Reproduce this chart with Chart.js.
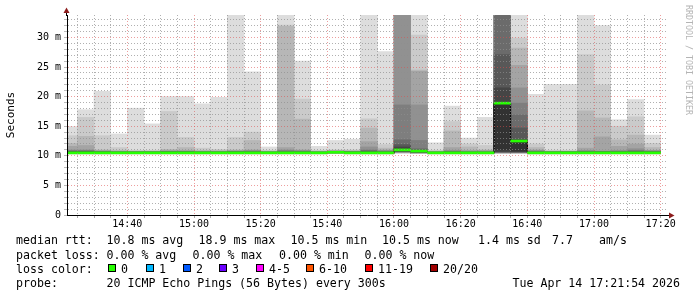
<!DOCTYPE html>
<html><head><meta charset="utf-8">
<script src="https://cdn.jsdelivr.net/npm/chart.js@4.4.1/dist/chart.umd.min.js"></script>
<style>html,body{margin:0;padding:0;background:#fff;}canvas{display:block;}</style>
</head><body>
<canvas id="c" width="697" height="297"></canvas>
<script>
// ---- data ----
const stepStarts = ['14:20','14:25','14:30','14:35','14:40','14:45','14:50','14:55',
  '15:00','15:05','15:10','15:15','15:20','15:25','15:30','15:35','15:40','15:45','15:50','15:55',
  '16:00','16:05','16:10','16:15','16:20','16:25','16:30','16:35','16:40','16:45','16:50','16:55',
  '17:00','17:05','17:10','17:15'];
const median = [10.5,10.5,10.5,10.5,10.5,10.5, 10.5,10.5,10.5,10.5,10.5,10.5,
  10.5,10.5,10.5,10.5,10.6,10.5, 10.5,10.5,11.0,10.8,10.5,10.5,
  10.5,10.5,18.9,12.5,10.5,10.5, 10.5,10.5,10.5,10.5,10.5,10.5];
// 20 sorted pings per 5-minute step (ms)
const ping01 = [10.3,10.3,10.3,10.3,10.3,10.3, 10.3,10.3,10.3,10.3,10.3,10.3, 10.3,10.3,10.3,10.3,10.35,10.3, 10.3,10.3,10.4,10.35,10.3,10.3, 10.3,10.3,10.4,10.4,10.3,10.3, 10.3,10.3,10.3,10.3,10.3,10.3];
const ping02 = [10.35,10.35,10.35,10.35,10.35,10.35, 10.35,10.35,10.35,10.35,10.35,10.35, 10.35,10.35,10.35,10.35,10.4,10.35, 10.35,10.35,10.5,10.4,10.35,10.35, 10.35,10.35,10.45,10.45,10.35,10.35, 10.35,10.35,10.35,10.35,10.35,10.35];
const ping03 = [10.4,10.4,10.4,10.4,10.4,10.4, 10.4,10.4,10.4,10.4,10.4,10.4, 10.4,10.4,10.4,10.4,10.45,10.4, 10.4,10.4,10.55,10.45,10.4,10.4, 10.4,10.4,10.5,10.5,10.4,10.4, 10.4,10.4,10.4,10.4,10.4,10.4];
const ping04 = [10.4,10.4,10.4,10.4,10.4,10.4, 10.4,10.4,10.4,10.4,10.4,10.4, 10.4,10.4,10.4,10.4,10.45,10.4, 10.4,10.4,10.6,10.5,10.4,10.4, 10.4,10.4,10.5,10.5,10.4,10.4, 10.4,10.4,10.4,10.4,10.4,10.4];
const ping05 = [10.4,10.4,10.4,10.4,10.4,10.4, 10.4,10.4,10.4,10.4,10.4,10.4, 10.4,10.4,10.4,10.4,10.5,10.4, 10.4,10.4,10.6,10.5,10.4,10.4, 10.4,10.4,10.55,10.55,10.4,10.4, 10.4,10.4,10.4,10.4,10.4,10.4];
const ping06 = [10.45,10.45,10.45,10.45,10.45,10.45, 10.45,10.45,10.45,10.45,10.45,10.45, 10.45,10.45,10.45,10.45,10.5,10.45, 10.45,10.45,10.65,10.55,10.45,10.45, 10.45,10.45,10.6,10.6,10.45,10.45, 10.45,10.45,10.45,10.45,10.45,10.45];
const ping07 = [10.45,10.45,10.45,10.45,10.45,10.45, 10.45,10.45,10.45,10.45,10.45,10.45, 10.45,10.45,10.45,10.45,10.5,10.45, 10.45,10.45,10.7,10.6,10.45,10.45, 10.45,10.45,10.6,10.6,10.45,10.45, 10.45,10.45,10.45,10.45,10.45,10.45];
const ping08 = [10.5,10.5,10.5,10.5,10.5,10.5, 10.5,10.5,10.5,10.5,10.5,10.5, 10.5,10.5,10.5,10.5,10.55,10.5, 10.5,10.5,10.75,10.6,10.5,10.5, 10.5,10.5,10.65,10.65,10.5,10.5, 10.5,10.5,10.5,10.5,10.5,10.5];
const ping09 = [10.5,10.5,10.5,10.5,10.5,10.5, 10.5,10.5,10.5,10.5,10.5,10.5, 10.5,10.5,10.5,10.5,10.55,10.5, 10.5,10.5,10.8,10.65,10.5,10.5, 10.5,10.5,10.7,10.7,10.5,10.5, 10.5,10.5,10.5,10.5,10.5,10.5];
const ping10 = [10.5,10.5,10.5,10.5,10.5,10.5, 10.5,10.5,10.5,10.5,10.5,10.5, 10.5,10.5,10.5,10.5,10.55,10.5, 10.5,10.5,10.85,10.7,10.5,10.5, 10.5,10.5,11.0,10.8,10.5,10.5, 10.5,10.5,10.5,10.5,10.5,10.5];
const ping11 = [10.55,10.55,10.55,10.55,10.55,10.55, 10.55,10.55,10.55,10.55,10.55,10.55, 10.55,10.55,10.55,10.55,10.65,10.55, 10.55,10.55,11.05,10.8,10.55,10.55, 10.55,10.55,19.0,12.5,10.55,10.55, 10.55,10.55,10.55,10.55,10.55,10.55];
const ping12 = [10.65,10.65,10.6,10.6,10.6,10.6, 10.6,10.6,10.6,10.6,10.6,10.6, 10.6,10.6,10.6,10.6,10.7,10.6, 10.65,10.6,11.5,10.9,10.6,10.6, 10.6,10.6,21.5,12.7,10.6,10.6, 10.6,10.6,10.6,10.6,10.6,10.6];
const ping13 = [10.7,10.7,10.65,10.6,10.6,10.6, 10.65,10.65,10.6,10.6,10.65,10.65, 10.6,10.65,10.65,10.6,10.7,10.65, 10.7,10.65,11.9,11.0,10.6,10.65, 10.6,10.6,27.1,14.7,10.65,10.6, 10.6,10.65,10.65,10.65,10.7,10.65];
const ping14 = [10.8,10.8,10.7,10.65,10.65,10.65, 10.7,10.7,10.65,10.65,10.7,10.7, 10.6,10.7,10.7,10.6,10.75,10.65, 10.9,10.7,12.7,11.2,10.6,10.7, 10.65,10.65,35.0,16.9,10.7,10.65, 10.65,10.7,10.7,10.7,10.8,10.7];
const ping15 = [10.9,10.9,10.75,10.7,10.7,10.7, 10.75,10.75,10.7,10.7,10.75,10.8, 10.65,10.9,10.8,10.65,10.75,10.7, 11.0,10.8,18.6,12.6,10.65,10.8, 10.7,10.7,36.0,18.9,10.8,10.7, 10.7,10.8,10.75,10.8,10.9,10.8];
const ping16 = [11.0,11.0,10.8,10.75,10.7,10.7, 10.8,10.8,10.75,10.75,10.8,10.9, 10.7,11.0,10.9,10.7,10.8,10.75, 11.5,10.9,35.5,18.6,10.7,10.9, 10.8,10.8,37.5,21.5,10.9,10.7, 10.7,10.9,10.8,10.9,11.2,10.85];
const ping17 = [11.6,11.75,10.9,10.8,10.75,10.75, 10.9,10.9,10.8,10.8,10.9,11.0, 10.75,11.4,11.0,10.75,10.85,10.8, 12.4,11.0,36.5,24.3,10.75,11.4, 10.9,10.9,39.0,25.3,11.0,10.75, 10.75,11.3,13.2,11.6,12.0,10.9];
const ping18 = [12.1,13.3,11.0,10.9,10.8,10.8, 11.1,11.4,10.9,10.9,11.0,12.6, 10.8,31.9,16.2,10.8,10.9,10.9, 14.7,11.3,38.0,24.5,10.8,14.2, 11.5,11.0,41.0,28.2,11.4,10.8, 10.8,17.6,16.4,12.7,13.5,11.4];
const ping19 = [13.4,16.5,13.4,11.4,10.9,10.9, 17.5,13.1,11.3,11.1,13.1,14.0, 10.9,32.1,19.6,10.9,11.0,11.0, 16.25,11.9,40.0,30.4,10.9,15.8, 12.0,11.75,44.0,29.9,12.0,10.9, 10.9,27.1,22.0,15.0,16.6,12.1];
const ping20 = [14.95,17.8,20.9,13.7,18.05,15.4, 20.0,20.0,18.8,19.9,38.0,24.2, 11.5,39.0,26.0,11.6,12.6,12.8, 37.0,27.6,44.0,38.0,12.2,18.4, 13.0,16.5,48.0,40.0,20.4,22.1, 22.1,38.0,32.0,16.1,19.5,13.5];

const timeTickLabels = ['14:40','15:00','15:20','15:40','16:00','16:20','16:40','17:00','17:20'];
const yTickLabels = ['0','5 m','10 m','15 m','20 m','25 m','30 m'];
const rangeStart = '14:21:54', rangeEnd = '17:21:54';
const yMax = 33.8;

const statsLine1 = ['median rtt:','10.8 ms avg','18.9 ms max','10.5 ms min','10.5 ms now','1.4 ms sd','7.7','am/s'];
const statsLine2 = ['packet loss:','0.00 % avg','0.00 % max','0.00 % min','0.00 % now'];
const lossLabels = ['0','1','2','3','4-5','6-10','11-19','20/20'];
const probeLine = ['probe:','20 ICMP Echo Pings (56 Bytes) every 300s','Tue Apr 14 17:21:54 2026'];
const watermark = 'RRDTOOL / TOBI OETIKER';

// ---- styles / layout ----
const lossColors = ['#26ff00','#00b8ff','#0059ff','#6a00ff','#ff00ff','#ff5500','#ff0000','#a00000'];
const line1X = [16,106.5,198.5,290.5,382,478,552,599];
const line2X = [16,106.5,192.5,279,364.5];
const lossBoxX = [108,146,183,219,256,306,365,430];
const MONO = 'DejaVu Sans Mono';
const minorGrid = 'rgba(143,143,143,0.7)';
const majorGrid = 'rgba(222,79,79,0.55)';

const toMin = s => { const p = s.split(':').map(Number); return (p[0]-14)*60 + p[1] + (p[2]||0)/60; };
const centers = stepStarts.map(s => toMin(s) + 2.5);
const pingSeries = [ping01,ping02,ping03,ping04,ping05,ping06,ping07,ping08,ping09,ping10,
                    ping11,ping12,ping13,ping14,ping15,ping16,ping17,ping18,ping19,ping20];

const datasets = [];
for (let ibot = 1; ibot <= 10; ibot++) {
  const lo = pingSeries[ibot-1], hi = pingSeries[20-ibot];
  const g = Math.floor(190/10*(10-ibot)) + 50;
  datasets.push({type:'bar', data: centers.map((x,j)=>({x, y:[lo[j], hi[j]]})),
    backgroundColor:`rgb(${g},${g},${g})`, borderWidth:0, order:100-ibot,
    grouped:false, barPercentage:1, categoryPercentage:1});
}
datasets.push({type:'line', data: centers.map((x,j)=>({x, y: median[j]})),
  borderColor:'#000', borderWidth:1, pointRadius:0, stepped:'middle', order:2});
datasets.push({type:'bar', data: centers.map((x,j)=>({x, y:[median[j]-0.17, median[j]+0.17]})),
  backgroundColor:lossColors[0], borderWidth:0, order:1, grouped:false, barPercentage:1, categoryPercentage:1});

const deco = {
  id:'deco',
  afterDraw(chart){
    const ctx = chart.ctx, a = chart.chartArea;
    ctx.save();
    ctx.strokeStyle = '#000'; ctx.lineWidth = 1;
    ctx.beginPath(); ctx.moveTo(a.left-0.5, a.top+1); ctx.lineTo(a.left-0.5, a.top-4); ctx.stroke();
    ctx.beginPath(); ctx.moveTo(a.right-1, a.bottom+0.5); ctx.lineTo(a.right+3, a.bottom+0.5); ctx.stroke();
    ctx.fillStyle = '#8c1c1c';
    ctx.beginPath(); ctx.moveTo(a.left-0.5, a.top-7.5); ctx.lineTo(a.left-3.5, a.top-2); ctx.lineTo(a.left+2.5, a.top-2); ctx.closePath(); ctx.fill();
    ctx.beginPath(); ctx.moveTo(a.right+7.5, a.bottom+0.5); ctx.lineTo(a.right+2, a.bottom-2.5); ctx.lineTo(a.right+2, a.bottom+3.5); ctx.closePath(); ctx.fill();
    // watermark
    ctx.save();
    ctx.translate(688, 60); ctx.rotate(Math.PI/2);
    ctx.font = `8.3px "${MONO}"`; ctx.fillStyle = '#b4b4b4';
    ctx.textAlign = 'center'; ctx.textBaseline = 'middle';
    ctx.fillText(watermark, 0, 0);
    ctx.restore();
    // legend
    ctx.font = `11.6px "${MONO}"`; ctx.fillStyle = '#000';
    ctx.textAlign = 'left'; ctx.textBaseline = 'middle';
    statsLine1.forEach((t,i)=>ctx.fillText(t, line1X[i], 241));
    statsLine2.forEach((t,i)=>ctx.fillText(t, line2X[i], 255.7));
    ctx.fillText('loss color:', 16, 269.5);
    lossLabels.forEach((t,i)=>{
      const bx = lossBoxX[i];
      ctx.fillStyle = '#000'; ctx.fillRect(bx, 264, 8, 8);
      ctx.fillStyle = lossColors[i]; ctx.fillRect(bx+1, 265, 6, 6);
      ctx.fillStyle = '#000'; ctx.fillText(t, bx+13, 269.5);
    });
    ctx.fillText(probeLine[0], 16, 283.7);
    ctx.fillText(probeLine[1], 106.5, 283.7);
    ctx.textAlign = 'right';
    ctx.fillText(probeLine[2], 680, 283.7);
    ctx.restore();
  }
};

Chart.defaults.font.family = MONO;
new Chart(document.getElementById('c'), {
  data: { datasets },
  options: {
    responsive:false, animation:false, devicePixelRatio:1,
    layout:{ padding:{ left:0, top:15, right:30, bottom:0 } },
    plugins:{ legend:{display:false}, tooltip:{enabled:false} },
    scales:{
      x:{ type:'linear', offset:false, min: toMin(rangeStart), max: toMin(rangeEnd),
        afterFit: s => { s.height = 82; },
        afterBuildTicks: s => { const t=[]; for (let m=25; m<=200; m+=5) t.push({value:m}); s.ticks = t; },
        ticks:{ autoSkip:false, maxRotation:0, minRotation:0, padding:0, color:'#000', font:{size:10},
          callback: v => { const l = timeTickLabels.find(s => Math.abs(toMin(s)-v) < 0.01); return l || ''; } },
        grid:{ z:1, offset:false, tickLength:3, tickColor:'#aaa',
          color: c => (c.tick && Math.round(c.tick.value) % 20 === 0) ? majorGrid : minorGrid },
        border:{ z:2, color:'#000', width:1, dash:[1,2] }
      },
      y:{ type:'linear', min:0, max:yMax,
        afterFit: s => { s.width = 67; },
        afterBuildTicks: s => { const t=[]; for (let v=0; v<=33; v++) t.push({value:v}); s.ticks = t; },
        ticks:{ autoSkip:false, padding:3, color:'#000', font:{size:10},
          callback: v => { const r = Math.round(v); return r % 5 === 0 ? yTickLabels[r/5] : ''; } },
        title:{ display:true, text:'Seconds', color:'#000', font:{size:11}, padding:{top:5,bottom:0} },
        grid:{ z:1, tickLength:3, tickColor:'#bbb',
          color: c => { if (!c.tick) return minorGrid; const r = Math.round(c.tick.value); return r === 0 ? 'rgba(0,0,0,0)' : (r % 5 === 0 ? majorGrid : minorGrid); } },
        border:{ z:2, color:'#000', width:1, dash:[1,2] }
      }
    }
  },
  plugins:[deco]
});
</script>
</body></html>
